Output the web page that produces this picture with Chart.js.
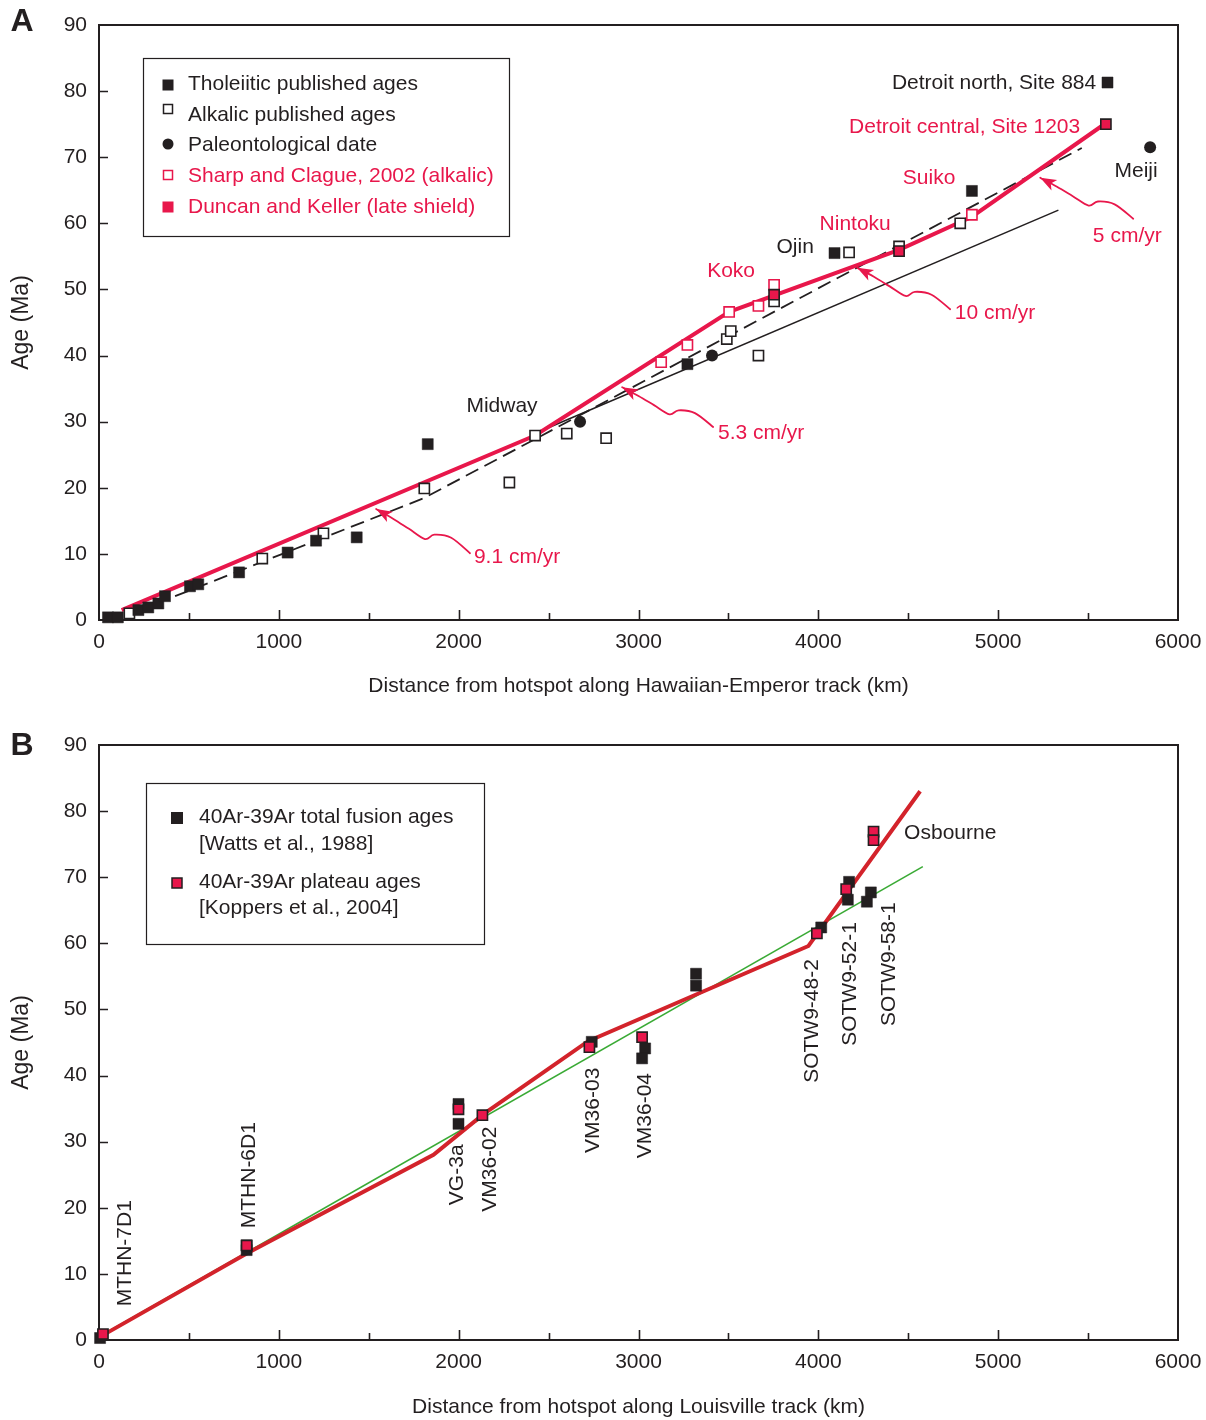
<!DOCTYPE html>
<html>
<head>
<meta charset="utf-8">
<title>Age progression along the Hawaiian-Emperor and Louisville tracks</title>
<script src="https://cdn.jsdelivr.net/npm/chart.js@4.4.1/dist/chart.umd.min.js"></script>
<style>
  html, body { margin: 0; padding: 0; background: #ffffff; }
  #wrap { position: relative; width: 1206px; height: 1420px; background: #ffffff; }
  canvas { position: absolute; left: 0; }
  #chartA { top: 0; width: 1206px; height: 720px; }
  #chartB { top: 720px; width: 1206px; height: 700px; }
</style>
</head>
<body>
<div id="wrap">
  <canvas id="chartA" width="1206" height="720"></canvas>
  <canvas id="chartB" width="1206" height="700"></canvas>
</div>
<script>
// ---------- shared axis ticks ----------
const xTickValues = [0, 1000, 2000, 3000, 4000, 5000, 6000];
const xMinorTicks = [500, 1500, 2500, 3500, 4500, 5500];
const yTickValues = [0, 10, 20, 30, 40, 50, 60, 70, 80, 90];

// ---------- Panel A: Hawaiian-Emperor chain (distance km, age Ma) ----------
const tholX   = [50, 105, 219, 274, 330, 367, 506, 552, 779, 1049, 1207, 1433, 1828, 3272, 4090, 4854, 5608];
const tholAge = [0.4, 0.4, 1.5, 1.9, 2.5, 3.6, 5.1, 5.4, 7.2, 10.2, 12.0, 12.5, 26.6, 38.7, 55.5, 64.9, 81.3];

const alkX   = [169, 908, 1248, 1809, 2282, 2425, 2601, 2820, 3491, 3513, 3667, 3754, 4171, 4449, 4789];
const alkAge = [1.0, 9.3, 13.1, 19.9, 20.8, 27.9, 28.2, 27.5, 42.5, 43.7, 40.0, 48.2, 55.6, 56.5, 60.0];

const paleoX   = [2675, 3409, 5845];
const paleoAge = [30.0, 40.0, 71.5];

const sharpX   = [3126, 3272, 3504, 3667, 3754, 4854];
const sharpAge = [39.0, 41.6, 46.6, 47.5, 50.7, 61.3];

const duncanX   = [3754, 4449, 5599];
const duncanAge = [49.2, 55.8, 75.0];

// age-progression fits
const redFitX   = [126, 2425, 3504, 4449, 4854, 5580];
const redFitAge = [1.5, 27.9, 46.6, 56.0, 61.0, 74.8];
const dashFitX   = [423, 1804, 2400, 5465];
const dashFitAge = [3.6, 18.4, 27.0, 71.4];
const solidFitX   = [2440, 5335];
const solidFitAge = [28.4, 62.0];

// ---------- Panel B: Louisville chain ----------
const wattsX   = [6, 821, 821, 1999, 1999, 2740, 3037, 3020, 3320, 3320, 4016, 4171, 4164, 4292, 4270];
const wattsAge = [0.3, 13.6, 14.3, 35.7, 32.7, 45.1, 44.1, 42.6, 55.4, 53.6, 62.4, 69.3, 66.6, 67.7, 66.3];

const plateauX   = [22, 821, 1999, 2132, 2727, 3020, 3992, 4155, 4307, 4307];
const plateauAge = [0.9, 14.3, 34.9, 34.0, 44.3, 45.8, 61.5, 68.2, 76.9, 75.6];

const louRedX   = [20, 821, 1860, 2140, 2720, 3945, 4566];
const louRedAge = [0.7, 13.1, 28.0, 34.2, 45.2, 59.6, 83.0];
const louGreenX   = [0, 4581];
const louGreenAge = [0.5, 71.6];

// ---------- styling ----------
const INK = '#231f20';
const RED = '#e8174b';
const LRED = '#d3232b';
const GREEN = '#3aaa35';
const FONT = '"Liberation Sans", Arial, Helvetica, sans-serif';
const FS = 21;

Chart.defaults.font.family = FONT;
Chart.defaults.font.size = FS;
Chart.defaults.color = INK;

const pts = (xs, ys) => xs.map((x, i) => ({ x: x, y: ys[i] }));

function markerSet(label, xs, ys, style, order) {
  return Object.assign({
    label: label, data: pts(xs, ys), showLine: false, clip: false, order: order
  }, style);
}
function lineSet(label, xs, ys, color, width, dash, order) {
  return {
    label: label, data: pts(xs, ys), showLine: true, pointRadius: 0,
    borderColor: color, borderWidth: width, borderDash: dash || [],
    borderCapStyle: 'butt', borderJoinStyle: 'miter', fill: false, order: order
  };
}

const filledSquare = { pointStyle: 'rect', pointRadius: 7.8, backgroundColor: INK, borderColor: INK, borderWidth: 0.5 };
const openSquare   = { pointStyle: 'rect', pointRadius: 7.2, backgroundColor: '#ffffff', borderColor: INK, borderWidth: 1.6 };
const dot          = { pointStyle: 'circle', pointRadius: 6, backgroundColor: INK, borderColor: INK, borderWidth: 0 };
const redOpen      = { pointStyle: 'rect', pointRadius: 7.2, backgroundColor: '#ffffff', borderColor: RED, borderWidth: 1.6 };
const redFilled    = { pointStyle: 'rect', pointRadius: 7.2, backgroundColor: RED, borderColor: INK, borderWidth: 1.6 };

function noEdgePadding(s) { s.paddingLeft = 0; s.paddingRight = 0; s.paddingTop = 0; s.paddingBottom = 0; }

function scalesFor(xTitle, titlePadBottom) {
  return {
    x: {
      type: 'linear', min: 0, max: 6000,
      afterBuildTicks: s => { s.ticks = xTickValues.map(v => ({ value: v })); },
      ticks: { padding: 10, color: INK, maxRotation: 0, autoSkip: false, callback: v => String(v) },
      grid: { display: false, drawTicks: false }, border: { display: false },
      title: { display: true, text: xTitle, color: INK, padding: { top: 0, bottom: titlePadBottom } },
      afterFit: s => { s.height = s.chart.height - 620; noEdgePadding(s); }
    },
    y: {
      type: 'linear', min: 0, max: 90,
      afterBuildTicks: s => { s.ticks = yTickValues.map(v => ({ value: v })); },
      ticks: { padding: 12, color: INK, callback: v => String(v) },
      grid: { display: false, drawTicks: false }, border: { display: false },
      title: { display: true, text: 'Age (Ma)', color: INK, font: { size: 23 }, padding: { top: 8, bottom: 0 } },
      afterFit: s => { s.width = 99; noEdgePadding(s); }
    }
  };
}

// ---------- drawing helpers ----------
function frameAndTicks(chart) {
  const { ctx, chartArea: a, scales: { x, y } } = chart;
  ctx.save();
  ctx.strokeStyle = INK;
  ctx.lineWidth = 2;
  ctx.strokeRect(a.left, a.top, a.right - a.left, a.bottom - a.top);
  ctx.lineWidth = 1.6;
  ctx.beginPath();
  xTickValues.slice(1, -1).forEach(v => {
    const px = Math.round(x.getPixelForValue(v)) + 0.5;
    ctx.moveTo(px, a.bottom); ctx.lineTo(px, a.bottom - 10);
  });
  xMinorTicks.forEach(v => {
    const px = Math.round(x.getPixelForValue(v)) + 0.5;
    ctx.moveTo(px, a.bottom); ctx.lineTo(px, a.bottom - 7);
  });
  yTickValues.slice(1, -1).forEach(v => {
    const py = Math.round(y.getPixelForValue(v)) + 0.5;
    ctx.moveTo(a.left, py); ctx.lineTo(a.left + 9, py);
  });
  ctx.stroke();
  ctx.restore();
}

function text(ctx, str, x, y, color, align, font) {
  ctx.save();
  ctx.fillStyle = color;
  ctx.font = font || (FS + 'px ' + FONT);
  ctx.textAlign = align || 'center';
  ctx.textBaseline = 'middle';
  ctx.fillText(str, x, y);
  ctx.restore();
}

function vtext(ctx, str, x, y, color) {
  // reads bottom-to-top, starting at (x, y)
  ctx.save();
  ctx.translate(x, y);
  ctx.rotate(-Math.PI / 2);
  ctx.fillStyle = color;
  ctx.font = FS + 'px ' + FONT;
  ctx.textAlign = 'left';
  ctx.textBaseline = 'middle';
  ctx.fillText(str, 0, 0);
  ctx.restore();
}

function square(ctx, cx, cy, side, fill, stroke, lw) {
  ctx.save();
  if (fill) { ctx.fillStyle = fill; ctx.fillRect(cx - side / 2, cy - side / 2, side, side); }
  if (stroke) { ctx.strokeStyle = stroke; ctx.lineWidth = lw; ctx.strokeRect(cx - side / 2, cy - side / 2, side, side); }
  ctx.restore();
}

// curved leader with arrowhead, running from the rate label to the fit line
const leaderShape = [[0, 0], [0.2, 0.35], [0.38, 0.42], [0.48, 0.32], [0.65, 0.55], [0.82, 0.78], [1, 1]];
function leader(ctx, T, P, color) {
  const p = leaderShape.map(([a, b]) => [T[0] + (P[0] - T[0]) * a, T[1] + (P[1] - T[1]) * b]);
  ctx.save();
  ctx.strokeStyle = color;
  ctx.fillStyle = color;
  ctx.lineWidth = 1.8;
  ctx.lineCap = 'round';
  ctx.beginPath();
  ctx.moveTo(p[0][0], p[0][1]);
  for (let i = 0; i < p.length - 1; i++) {
    const p0 = p[i - 1] || p[i], p1 = p[i], p2 = p[i + 1], p3 = p[i + 2] || p[i + 1];
    ctx.bezierCurveTo(
      p1[0] + (p2[0] - p0[0]) / 6, p1[1] + (p2[1] - p0[1]) / 6,
      p2[0] - (p3[0] - p1[0]) / 6, p2[1] - (p3[1] - p1[1]) / 6,
      p2[0], p2[1]);
  }
  ctx.stroke();
  const q = p[p.length - 2];
  const ang = Math.atan2(P[1] - q[1], P[0] - q[0]);
  ctx.translate(P[0], P[1]);
  ctx.rotate(ang);
  ctx.beginPath();
  ctx.moveTo(0, 0);
  ctx.lineTo(-16, -6);
  ctx.lineTo(-12, 0);
  ctx.lineTo(-16, 6);
  ctx.closePath();
  ctx.fill();
  ctx.restore();
}

// ---------- annotations (data units) ----------
const siteLabelsA = [
  { t: 'Midway', x: 2241, y: 32.4, c: INK, a: 'center' },
  { t: 'Koko', x: 3515, y: 52.8, c: RED, a: 'center' },
  { t: 'Ojin', x: 3871, y: 56.4, c: INK, a: 'center' },
  { t: 'Nintoku', x: 4205, y: 59.9, c: RED, a: 'center' },
  { t: 'Suiko', x: 4616, y: 66.8, c: RED, a: 'center' },
  { t: 'Detroit north, Site 884', x: 5545, y: 81.2, c: INK, a: 'right' },
  { t: 'Detroit central, Site 1203', x: 5456, y: 74.6, c: RED, a: 'right' },
  { t: 'Meiji', x: 5767, y: 67.9, c: INK, a: 'center' }
];
const rateLabelsA = [
  { t: '9.1 cm/yr', lx: 2325, ly: 9.5, tail: [2063, 10.1], tip: [1541, 16.8] },
  { t: '5.3 cm/yr', lx: 3682, ly: 28.3, tail: [3415, 29.2], tip: [2909, 35.2] },
  { t: '10 cm/yr', lx: 4983, ly: 46.4, tail: [4733, 47.0], tip: [4216, 53.3] },
  { t: '5 cm/yr', lx: 5718, ly: 58.1, tail: [5751, 60.7], tip: [5234, 66.9] }
];
const siteLabelsB = [
  { t: 'MTHN-7D1', x: 145, y: 5.1 },
  { t: 'MTHN-6D1', x: 834, y: 16.9 },
  { t: 'VG-3a', x: 1991, y: 20.4 },
  { t: 'VM36-02', x: 2175, y: 19.4 },
  { t: 'VM36-03', x: 2747, y: 28.3 },
  { t: 'VM36-04', x: 3037, y: 27.5 },
  { t: 'SOTW9-48-2', x: 3966, y: 38.9 },
  { t: 'SOTW9-52-1', x: 4177, y: 44.5 },
  { t: 'SOTW9-58-1', x: 4394, y: 47.5 }
];

const overlays = {
  chartA(chart) {
    const { ctx, scales: { x, y } } = chart;
    const X = v => x.getPixelForValue(v), Y = v => y.getPixelForValue(v);
    text(ctx, 'A', 22, 22, INK, 'center', 'bold 32px ' + FONT);
    siteLabelsA.forEach(l => text(ctx, l.t, X(l.x), Y(l.y), l.c, l.a));
    rateLabelsA.forEach(l => {
      leader(ctx, [X(l.tail[0]), Y(l.tail[1])], [X(l.tip[0]), Y(l.tip[1])], RED);
      text(ctx, l.t, X(l.lx), Y(l.ly), RED, 'center');
    });
    // legend
    ctx.save();
    ctx.fillStyle = '#ffffff';
    ctx.fillRect(143.5, 58.5, 366, 178);
    ctx.strokeStyle = INK; ctx.lineWidth = 1.2;
    ctx.strokeRect(143.5, 58.5, 366, 178);
    ctx.restore();
    square(ctx, 168, 85, 11, INK, null, 0);
    square(ctx, 168, 109, 9, '#ffffff', INK, 1.5);
    ctx.save(); ctx.fillStyle = INK; ctx.beginPath(); ctx.arc(168, 144, 5.5, 0, Math.PI * 2); ctx.fill(); ctx.restore();
    square(ctx, 168, 175, 9, '#ffffff', RED, 1.5);
    square(ctx, 168, 207, 11, RED, null, 0);
    text(ctx, 'Tholeiitic published ages', 188, 84, INK, 'left');
    text(ctx, 'Alkalic published ages', 188, 115, INK, 'left');
    text(ctx, 'Paleontological date', 188, 145, INK, 'left');
    text(ctx, 'Sharp and Clague, 2002 (alkalic)', 188, 176, RED, 'left');
    text(ctx, 'Duncan and Keller (late shield)', 188, 207, RED, 'left');
  },
  chartB(chart) {
    const { ctx, scales: { x, y } } = chart;
    const X = v => x.getPixelForValue(v), Y = v => y.getPixelForValue(v);
    text(ctx, 'B', 22, 26, INK, 'center', 'bold 32px ' + FONT);
    siteLabelsB.forEach(l => vtext(ctx, l.t, X(l.x), Y(l.y), INK));
    text(ctx, 'Osbourne', X(4477), Y(76.7), INK, 'left');
    // legend
    ctx.save();
    ctx.fillStyle = '#ffffff';
    ctx.fillRect(146.5, 63.5, 338, 161);
    ctx.strokeStyle = INK; ctx.lineWidth = 1.2;
    ctx.strokeRect(146.5, 63.5, 338, 161);
    ctx.restore();
    square(ctx, 177, 98, 12, INK, null, 0);
    square(ctx, 177, 163, 10, RED, INK, 1.5);
    text(ctx, '40Ar-39Ar total fusion ages', 199, 97, INK, 'left');
    text(ctx, '[Watts et al., 1988]', 199, 124, INK, 'left');
    text(ctx, '40Ar-39Ar plateau ages', 199, 162, INK, 'left');
    text(ctx, '[Koppers et al., 2004]', 199, 188, INK, 'left');
  }
};

const decoPlugin = {
  id: 'deco',
  beforeDatasetsDraw(chart) { frameAndTicks(chart); },
  afterDatasetsDraw(chart) { overlays[chart.canvas.id](chart); }
};

function baseOptions(xTitle, titlePadBottom) {
  return {
    responsive: false,
    animation: false,
    events: [],
    layout: { padding: { top: 25, right: 28, left: 0, bottom: 0 } },
    plugins: { legend: { display: false }, tooltip: { enabled: false } },
    scales: scalesFor(xTitle, titlePadBottom)
  };
}

// ---------- Panel A ----------
new Chart(document.getElementById('chartA'), {
  type: 'scatter',
  data: {
    datasets: [
      markerSet('Duncan and Keller (late shield)', duncanX, duncanAge, redFilled, 0),
      markerSet('Sharp and Clague, 2002 (alkalic)', sharpX, sharpAge, redOpen, 1),
      markerSet('Tholeiitic published ages', tholX, tholAge, filledSquare, 2),
      markerSet('Alkalic published ages', alkX, alkAge, openSquare, 3),
      markerSet('Paleontological date', paleoX, paleoAge, dot, 4),
      lineSet('Red fit', redFitX, redFitAge, RED, 4, null, 5),
      lineSet('Dashed fit', dashFitX, dashFitAge, INK, 1.8, [14, 7], 6),
      lineSet('Solid fit', solidFitX, solidFitAge, INK, 1.6, null, 7)
    ]
  },
  options: baseOptions('Distance from hotspot along Hawaiian-Emperor track (km)', 21.4),
  plugins: [decoPlugin]
});

// ---------- Panel B ----------
new Chart(document.getElementById('chartB'), {
  type: 'scatter',
  data: {
    datasets: [
      markerSet('40Ar-39Ar plateau ages [Koppers et al., 2004]', plateauX, plateauAge, redFilled, 0),
      markerSet('40Ar-39Ar total fusion ages [Watts et al., 1988]', wattsX, wattsAge, filledSquare, 1),
      lineSet('Red fit', louRedX, louRedAge, LRED, 4, null, 2),
      lineSet('Green fit', louGreenX, louGreenAge, GREEN, 1.6, null, 3)
    ]
  },
  options: baseOptions('Distance from hotspot along Louisville track (km)', 0.4),
  plugins: [decoPlugin]
});
</script>
</body>
</html>
